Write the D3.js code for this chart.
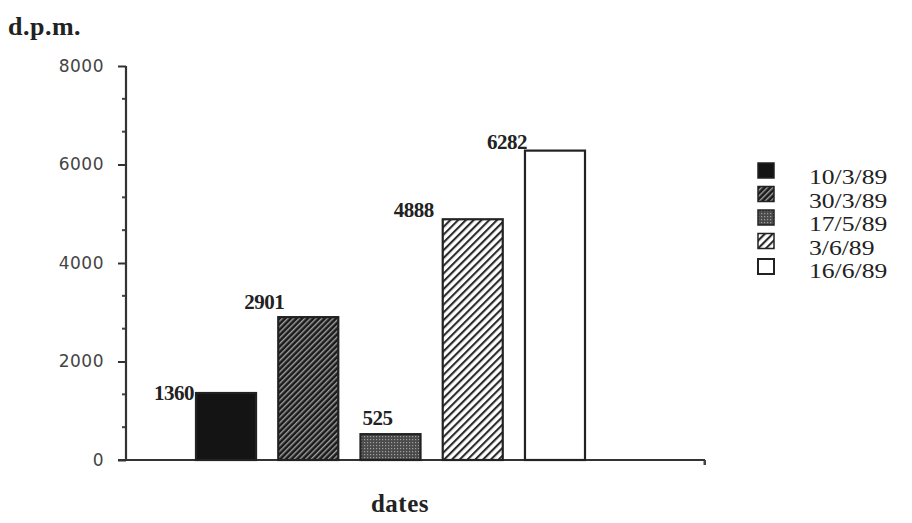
<!DOCTYPE html>
<html><head><meta charset="utf-8">
<script src="https://cdn.jsdelivr.net/npm/d3@7"></script>
<style>
html,body{margin:0;padding:0;background:#fff;}
svg{display:block;}
</style></head>
<body>
<svg id="chart" width="912" height="523"></svg>
<script>
// ---- data ----
const categories = ["10/3/89", "30/3/89", "17/5/89", "3/6/89", "16/6/89"];
const values = [1360, 2901, 525, 4888, 6282];
const yTicks = [0, 2000, 4000, 6000, 8000];
const yLabel = "d.p.m.";
const xLabel = "dates";

// ---- layout ----
const axisX = 126, axisY0 = 460, axisYTop = 66, axisXEnd = 705;
const labelDx = [-2, -34, 2, -9, 2];      // label anchor offset from bar left
const labelAnchor = ["end", "start", "start", "end", "end"];
const labelDy = [7, -8, -9, -2, -2];       // baseline offset from bar top
const serif = "'Liberation Serif','Times New Roman',serif";

const svg = d3.select("#chart");
const defs = svg.append("defs");

// patterns
const p2 = defs.append("pattern").attr("id","pat2").attr("patternUnits","userSpaceOnUse")
  .attr("width",4).attr("height",4).attr("patternTransform","rotate(45)");
p2.append("rect").attr("width",4).attr("height",4).attr("fill","#1a1a1a");
p2.append("rect").attr("x",0).attr("width",1.4).attr("height",4).attr("fill","#a0a0a0");

const p3 = defs.append("pattern").attr("id","pat3").attr("patternUnits","userSpaceOnUse")
  .attr("width",3).attr("height",3);
p3.append("rect").attr("width",3).attr("height",3).attr("fill","#4a4a4a");
p3.append("rect").attr("x",1).attr("y",1).attr("width",1.2).attr("height",1.2).attr("fill","#a0a0a0");

const p4 = defs.append("pattern").attr("id","pat4").attr("patternUnits","userSpaceOnUse")
  .attr("width",5.5).attr("height",5.5).attr("patternTransform","rotate(45)");
p4.append("rect").attr("width",5.5).attr("height",5.5).attr("fill","#fff");
p4.append("rect").attr("width",2.1).attr("height",5.5).attr("fill","#2a2a2a");

const fills = ["#141414", "url(#pat2)", "url(#pat3)", "url(#pat4)", "#ffffff"];

// scales
const y = d3.scaleLinear().domain([0, 8000]).range([axisY0, axisYTop]);
const x = d3.scaleBand().domain(categories).range([196, 585]).paddingInner(0.27).paddingOuter(0);

// y axis
const yAxis = d3.axisLeft(y).tickValues(yTicks).tickSize(8).tickPadding(14).tickFormat(d3.format("d"));
const gy = svg.append("g").attr("transform",`translate(${axisX},0)`).call(yAxis);
gy.select(".domain").attr("stroke","#333").attr("stroke-width",2.2).attr("d",`M0,${axisYTop}V${axisY0}`);
gy.selectAll(".tick line").attr("stroke","#333").attr("stroke-width",2);
gy.selectAll(".tick text").attr("fill","#444").attr("font-family","'DejaVu Sans',sans-serif")
  .attr("font-size",17).style("letter-spacing","0.5px");

// minor dots
const minor = d3.range(0, 8000, 2000/3).filter(v => Math.abs(v % 2000) > 1 && Math.abs(v % 2000 - 2000) > 1);
svg.append("g").selectAll("rect").data(minor).join("rect")
  .attr("x", axisX-4).attr("y", d => y(d)-1).attr("width",3).attr("height",2).attr("fill","#444");

// x axis line
svg.append("line").attr("x1",axisX-8).attr("x2",axisXEnd).attr("y1",axisY0).attr("y2",axisY0)
  .attr("stroke","#333").attr("stroke-width",2.2);
svg.append("rect").attr("x",axisXEnd-1.5).attr("y",axisY0).attr("width",2.5).attr("height",5).attr("fill","#444");

// bars
svg.append("g").selectAll("rect").data(values).join("rect")
  .attr("x",(d,i)=>x(categories[i])).attr("y",d=>y(d))
  .attr("width",x.bandwidth()).attr("height",d=>y(0)-y(d))
  .attr("fill",(d,i)=>fills[i]).attr("stroke","#222").attr("stroke-width",2.2);

// value labels
svg.append("g").selectAll("text").data(values).join("text")
  .attr("x",(d,i)=>x(categories[i])+labelDx[i]).attr("y",(d,i)=>y(d)+labelDy[i])
  .attr("text-anchor",(d,i)=>labelAnchor[i])
  .attr("font-family",serif).attr("font-weight","bold").attr("font-size",21).attr("fill","#222")
  .style("letter-spacing","-0.5px")
  .text(d=>d);

// axis titles
svg.append("text").attr("x",8).attr("y",35).attr("font-family",serif).attr("font-weight","bold")
  .attr("font-size",26).attr("fill","#222").style("letter-spacing","0.5px").text(yLabel);
svg.append("text").attr("x",400).attr("y",512).attr("text-anchor","middle")
  .attr("font-family",serif).attr("font-weight","bold").attr("font-size",25).attr("fill","#222")
  .style("letter-spacing","0.5px").text(xLabel);

// legend
const rowH = 23.5;
const lg = svg.append("g").attr("transform","translate(757,162)");
const row = lg.selectAll("g").data(categories).join("g").attr("transform",(d,i)=>`translate(0,${i*rowH})`);
row.append("rect").attr("x",1).attr("y",(d,i)=> i===4? 3:1).attr("width",16).attr("height",15)
  .attr("fill",(d,i)=>fills[i]).attr("stroke","#222").attr("stroke-width",(d,i)=>i===4?2:1.5);
row.append("text").attr("x",52).attr("y",22).attr("font-family",serif).attr("font-size",21)
  .attr("fill","#222").text(d=>d)
  .each(function(){
    const len = this.getComputedTextLength();
    d3.select(this).attr("textLength", len*1.22).attr("lengthAdjust","spacingAndGlyphs");
  });
</script>
</body></html>
